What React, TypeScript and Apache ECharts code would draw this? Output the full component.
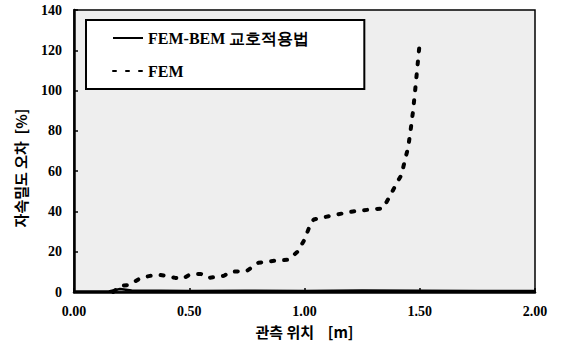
import React, { useEffect, useRef } from "react";
import * as echarts from "echarts";

const xTickLabels = ["0.00", "0.50", "1.00", "1.50", "2.00"];
const seriesNames = ["FEM-BEM 교호적용법", "FEM"];

const femBemX = [0, 0.15, 0.2, 0.25, 0.5, 0.75, 1.0, 1.25, 1.5, 1.75, 2.0];
const femBemY = [0.3, 0.3, 1.5, 0.8, 0.5, 0.6, 0.5, 0.7, 0.6, 0.5, 0.5];

const femX = [0.17, 0.2, 0.24, 0.29, 0.33, 0.37, 0.4, 0.44, 0.47, 0.5, 0.55, 0.58, 0.62, 0.65, 0.68, 0.75, 0.8, 0.87, 0.93, 0.97, 1.0, 1.02, 1.04, 1.08, 1.12, 1.21, 1.29, 1.34, 1.37, 1.4, 1.42, 1.435, 1.45, 1.46, 1.47, 1.48, 1.49, 1.5];
const femY = [0, 3, 3.5, 7, 8, 8.5, 8, 7, 6.5, 8.5, 9, 7, 7.5, 8, 10, 10.5, 14.5, 15.5, 16, 20, 26, 32, 36, 37, 38, 40, 41, 41.5, 47.5, 54, 58, 65, 72, 80, 89, 100, 112, 124];

const SERIF = "'Liberation Serif', 'Times New Roman', 'DejaVu Serif', serif";
const KR = "'Noto Sans CJK KR', sans-serif";

export default function App() {
  const ref = useRef<HTMLDivElement>(null);
  useEffect(() => {
    document.body.style.margin = "0";
    const chart = echarts.init(ref.current!, null, { renderer: "svg" });
    chart.setOption({
      animation: false,
      backgroundColor: "#fff",
      textStyle: { fontFamily: SERIF },
      grid: {
        left: 74,
        right: 26,
        top: 10,
        bottom: 56,
        show: true,
        backgroundColor: "#eeeeee",
        borderColor: "#000",
        borderWidth: 1.5,
      },
      legend: {
        left: 86,
        top: 20,
        orient: "vertical",
        padding: [10, 55, 10, 26],
        borderColor: "#000",
        borderWidth: 2,
        backgroundColor: "#fff",
        itemWidth: 30,
        itemHeight: 14,
        itemGap: 17,
        itemStyle: { opacity: 0 },
        textStyle: { fontFamily: SERIF, fontSize: 16, fontWeight: "bold", color: "#000" },
        data: seriesNames,
      },
      xAxis: {
        type: "value",
        min: 0,
        max: 2,
        interval: 0.5,
        name: "관측 위치    [m]",
        nameLocation: "middle",
        nameGap: 32,
        nameTextStyle: { fontFamily: KR, fontSize: 15, fontWeight: "bold", color: "#000" },
        axisLine: { lineStyle: { color: "#000", width: 2.5 } },
        axisTick: { inside: true, length: 4, lineStyle: { color: "#000", width: 1.5 } },
        splitLine: { show: false },
        axisLabel: {
          color: "#000",
          fontFamily: SERIF,
          fontWeight: "bold",
          fontSize: 14,
          margin: 12,
          formatter: (v: number) => xTickLabels[Math.round(v / 0.5)] ?? "",
        },
      },
      yAxis: {
        type: "value",
        min: 0,
        max: 140,
        interval: 20,
        name: "자속밀도 오차  [%]",
        nameLocation: "middle",
        nameGap: 46,
        nameTextStyle: { fontFamily: KR, fontSize: 15, fontWeight: "bold", color: "#000", padding: [0, 0, 0, -34] },
        axisLine: { show: true, lineStyle: { color: "#000", width: 2.5 } },
        axisTick: { show: true, inside: true, length: 4, lineStyle: { color: "#000", width: 1.5 } },
        splitLine: { show: false },
        axisLabel: { color: "#000", fontFamily: SERIF, fontWeight: "bold", fontSize: 14, margin: 12 },
      },
      series: [
        {
          name: seriesNames[0],
          type: "line",
          symbol: "none",
          data: femBemX.map((x, i) => [x, femBemY[i]]),
          lineStyle: { color: "#000", width: 2.5 },
          itemStyle: { color: "#000" },
        },
        {
          name: seriesNames[1],
          type: "line",
          symbol: "none",
          data: femX.map((x, i) => [x, femY[i]]),
          lineStyle: { color: "#000", width: 4, type: [3, 10], cap: "round" },
          itemStyle: { color: "#000" },
        },
      ],
    });
    return () => chart.dispose();
  }, []);
  return <div ref={ref} style={{ width: 561, height: 348 }} />;
}
